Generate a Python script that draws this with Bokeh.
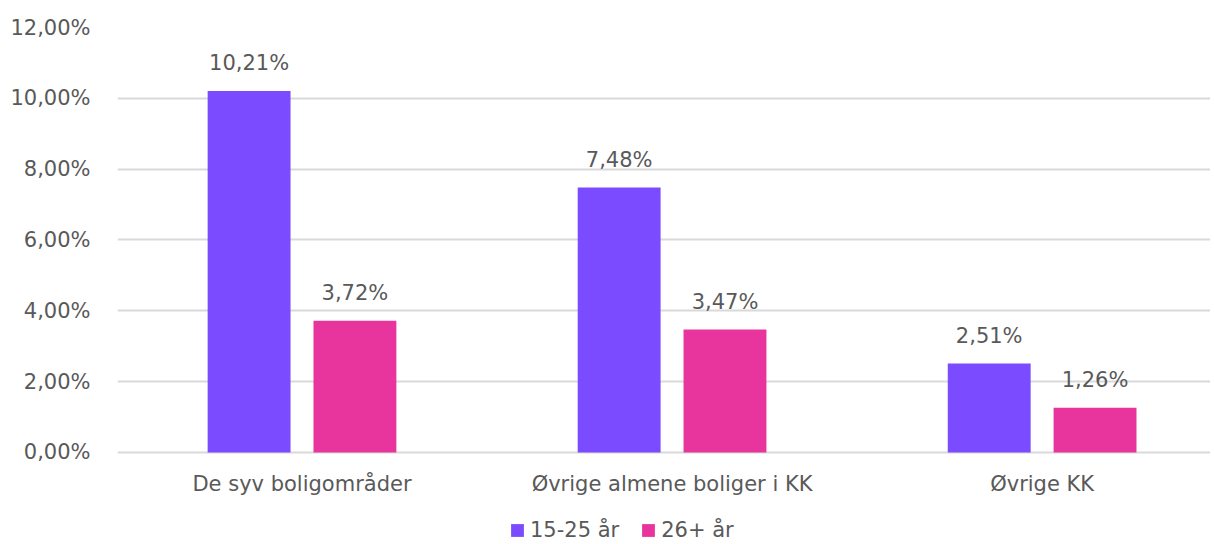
from bokeh.plotting import figure
from bokeh.models import (ColumnDataSource, Range1d, FixedTicker, Legend, LegendItem, LabelSet)
from bokeh.core.properties import value
from bokeh.embed import file_html
from bokeh.resources import INLINE

categories = ["De syv boligområder", "Øvrige almene boliger i KK", "Øvrige KK"]
series_names = ["15-25 år", "26+ år"]
young = [10.21, 7.48, 2.51]
older = [3.72, 3.47, 1.26]
y_ticks = [0, 2, 4, 6, 8, 10, 12]

PURPLE = "#7B4BFF"
PINK = "#E8359D"
TEXT = "#595959"
GRID = "#D9D9D9"
FONT = "DejaVu Sans"
FS = "21px"

def pct(v):
    return f"{v:.2f}".replace(".", ",") + "%"

x = list(range(len(categories)))
off = 0.143
w = 0.224

src_a = ColumnDataSource(dict(x=[i - off for i in x], top=young, lab=[pct(v) for v in young]))
src_b = ColumnDataSource(dict(x=[i + off for i in x], top=older, lab=[pct(v) for v in older]))
src_c = ColumnDataSource(dict(x=x, y=[0] * len(x), lab=categories))

# frame extends below the zero line so the category labels and legend fit inside it
p = figure(output_backend="svg", toolbar_location=None,
           frame_width=1093, frame_height=517,
           x_range=Range1d(-0.4986, 2.455), y_range=Range1d(-2.598, 12))
p.min_border_left = 117
p.min_border_right = 0
p.min_border_top = 27
p.min_border_bottom = 0
p.outline_line_color = None
p.background_fill_color = "white"

ra = p.vbar(x="x", top="top", width=w, bottom=0, source=src_a, fill_color=PURPLE, line_color=None)
rb = p.vbar(x="x", top="top", width=w, bottom=0, source=src_b, fill_color=PINK, line_color=None)

for s in (src_a, src_b):
    p.add_layout(LabelSet(x="x", y="top", text="lab", source=s, y_offset=16,
                          text_align="center", text_baseline="bottom",
                          text_font=value(FONT), text_font_size=value(FS), text_color=TEXT))

# category labels
p.add_layout(LabelSet(x="x", y="y", text="lab", source=src_c, y_offset=-32,
                      text_align="center", text_baseline="middle",
                      text_font=value(FONT), text_font_size=value(FS), text_color=TEXT))

# y axis
p.yaxis.ticker = FixedTicker(ticks=y_ticks)
p.yaxis.major_label_overrides = {t: pct(t) for t in y_ticks}
p.yaxis.axis_line_color = None
p.yaxis.major_tick_line_color = None
p.yaxis.minor_tick_line_color = None
p.yaxis.major_label_standoff = 21
p.yaxis.major_label_text_font = FONT
p.yaxis.major_label_text_font_size = FS
p.yaxis.major_label_text_color = TEXT
p.ygrid.grid_line_color = GRID
p.ygrid.grid_line_width = 2

p.xaxis.visible = False
p.xgrid.grid_line_color = None

legend = Legend(items=[LegendItem(label=series_names[0], renderers=[ra]),
                       LegendItem(label=series_names[1], renderers=[rb])],
                orientation="horizontal", location=(392, 2),
                label_text_font=FONT, label_text_font_size=FS, label_text_color=TEXT,
                glyph_width=16, glyph_height=16, spacing=21, label_standoff=5,
                border_line_color=None, background_fill_alpha=0, padding=0, margin=0)
p.add_layout(legend, "center")

open("out.html", "w").write(file_html(p, INLINE))
